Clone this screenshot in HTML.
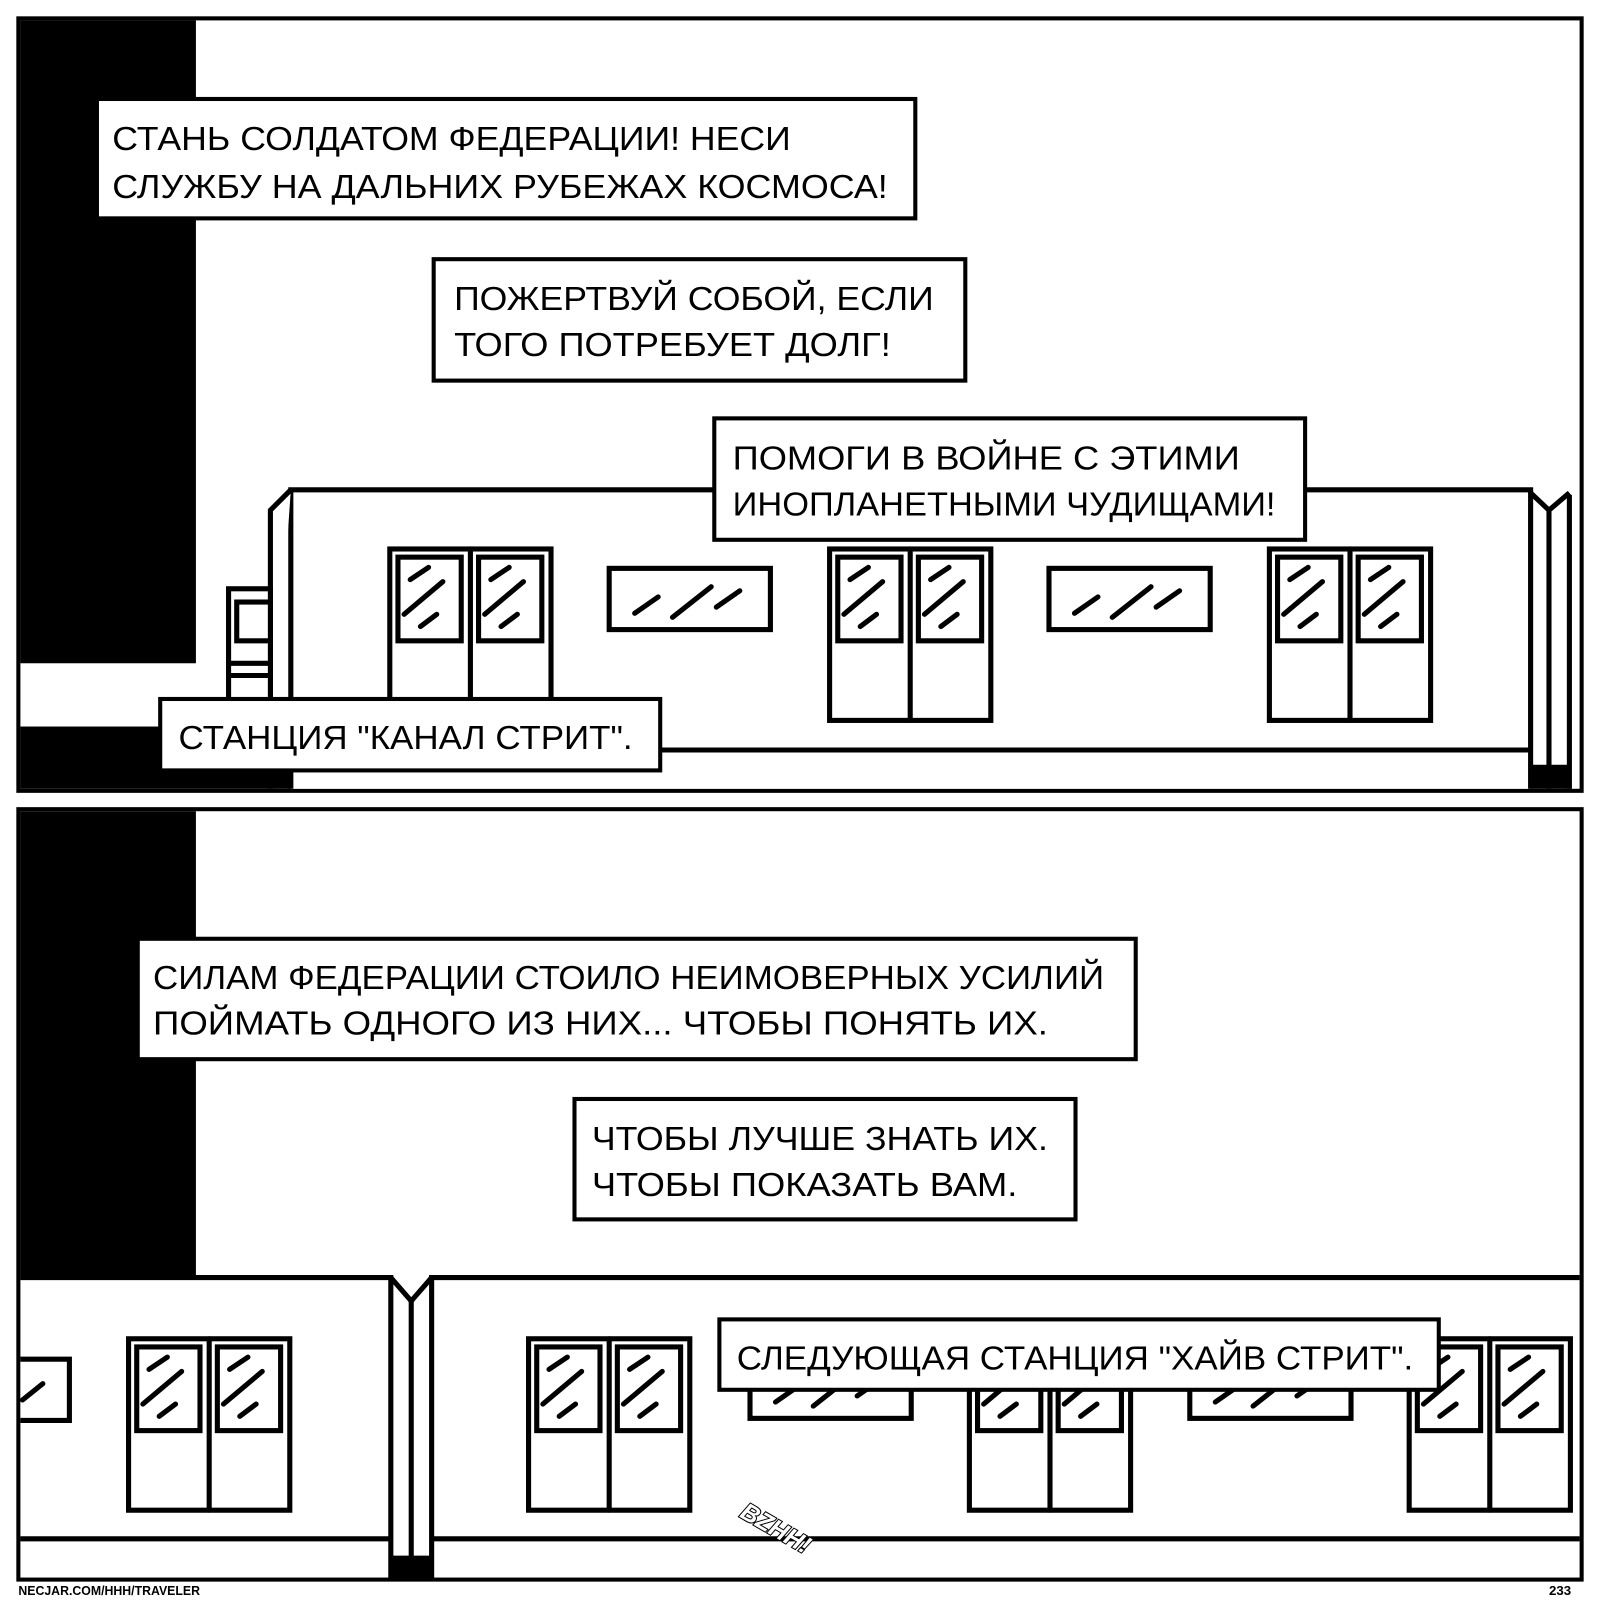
<!DOCTYPE html>
<html><head><meta charset="utf-8"><style>
html,body{margin:0;padding:0;background:#fff;}
svg{display:block}
text{font-family:"Liberation Sans","DejaVu Sans",sans-serif;font-size:33px;fill:#000;}
</style></head><body>
<svg width="1600" height="1600" viewBox="0 0 1568 1568" xmlns="http://www.w3.org/2000/svg">
<defs>
<g id="door" fill="none" stroke="#000" stroke-width="5" stroke-linecap="round">
  <rect x="0" y="0" width="158" height="168" fill="#fff"/>
  <line x1="79" y1="0" x2="79" y2="168"/>
  <rect x="8" y="8" width="62" height="82"/>
  <rect x="87" y="8" width="62" height="82"/>
  <line x1="20" y1="30" x2="38" y2="18"/><line x1="14" y1="64" x2="52" y2="32"/><line x1="30" y1="76" x2="46" y2="64"/>
  <line x1="99" y1="30" x2="117" y2="18"/><line x1="93" y1="64" x2="131" y2="32"/><line x1="109" y1="76" x2="125" y2="64"/>
</g>
<g id="hwin" fill="none" stroke="#000" stroke-width="5" stroke-linecap="round">
  <rect x="0" y="0" width="158" height="60" fill="#fff"/>
  <line x1="25" y1="44" x2="48" y2="28"/><line x1="62" y1="48" x2="100" y2="18"/><line x1="105" y1="38" x2="128" y2="22"/>
</g>
</defs>
<rect width="1568" height="1568" fill="#fff"/>

<!-- PANEL 1 -->
<g stroke="#000" stroke-width="4" fill="none">
  <rect x="18" y="18" width="1532" height="757" fill="#fff"/>
</g>
<rect x="20" y="20" width="172" height="630" fill="#000"/>
<rect x="20" y="712" width="265" height="61" fill="#000"/>
<g stroke="#000" stroke-width="5" fill="#fff">
  <path d="M285 773 V480 H1500 V773"/>
  <path d="M265 773 V500 L285 480"/>
  <rect x="224" y="577" width="41" height="135"/>
  <rect x="232" y="590" width="33" height="38"/>
  <line x1="224" y1="650" x2="265" y2="650"/>
  <line x1="224" y1="662" x2="265" y2="662"/>
  <line x1="285" y1="735" x2="1500" y2="735"/>
  <line x1="1518" y1="500" x2="1518" y2="773"/>
  <line x1="1538" y1="485" x2="1538" y2="773"/>
  <path d="M1500 483 L1518 500 L1538 483" fill="none"/>
  <line x1="1500" y1="752" x2="1540" y2="752"/>
</g>
<rect x="1500" y="752" width="40" height="21" fill="#000"/>
<use href="#door" x="382" y="538"/>
<use href="#door" x="813" y="538"/>
<use href="#door" x="1244" y="538"/>
<use href="#hwin" x="597" y="557"/>
<use href="#hwin" x="1028" y="557"/>

<g stroke="#000" stroke-width="4" fill="#fff">
  <rect x="95" y="97" width="802" height="117"/>
  <rect x="425" y="254" width="521" height="119"/>
  <rect x="700" y="410" width="579" height="119"/>
  <rect x="157" y="685" width="490" height="70"/>
</g>
<text x="110" y="147" textLength="665" lengthAdjust="spacingAndGlyphs">СТАНЬ СОЛДАТОМ ФЕДЕРАЦИИ! НЕСИ</text>
<text x="110" y="194" textLength="760" lengthAdjust="spacingAndGlyphs">СЛУЖБУ НА ДАЛЬНИХ РУБЕЖАХ КОСМОСА!</text>
<text x="445" y="304" textLength="470" lengthAdjust="spacingAndGlyphs">ПОЖЕРТВУЙ СОБОЙ, ЕСЛИ</text>
<text x="445" y="349" textLength="428" lengthAdjust="spacingAndGlyphs">ТОГО ПОТРЕБУЕТ ДОЛГ!</text>
<text x="718" y="460" textLength="497" lengthAdjust="spacingAndGlyphs">ПОМОГИ В ВОЙНЕ С ЭТИМИ</text>
<text x="718" y="505" textLength="532" lengthAdjust="spacingAndGlyphs">ИНОПЛАНЕТНЫМИ ЧУДИЩАМИ!</text>
<text x="175" y="734" textLength="445" lengthAdjust="spacingAndGlyphs">СТАНЦИЯ "КАНАЛ СТРИТ".</text>

<!-- PANEL 2 -->
<rect x="18" y="793" width="1532" height="755" fill="#fff" stroke="#000" stroke-width="4"/>
<rect x="20" y="795" width="172" height="457" fill="#000"/>
<g stroke="#000" stroke-width="5" fill="none">
  <path d="M20 1252 H383 V1548"/>
  <path d="M423 1548 V1252 H1548"/>
  <path d="M383 1252 L403 1275 L423 1252"/>
  <line x1="403" y1="1275" x2="403" y2="1548"/>
  <line x1="20" y1="1508" x2="383" y2="1508"/>
  <line x1="423" y1="1508" x2="1548" y2="1508"/>
  <line x1="383" y1="1527" x2="423" y2="1527"/>
  <path d="M20 1332 H68 V1392 H20" fill="#fff"/>
  <line x1="22" y1="1372" x2="42" y2="1356" stroke-linecap="round"/>
</g>
<rect x="383" y="1527" width="40" height="21" fill="#000"/>
<use href="#door" x="126" y="1312"/>
<use href="#door" x="518" y="1312"/>
<use href="#door" x="950" y="1312"/>
<use href="#door" x="1381" y="1312"/>
<use href="#hwin" x="735" y="1330"/>
<use href="#hwin" x="1166" y="1330"/>

<g stroke="#000" stroke-width="4" fill="#fff">
  <rect x="135" y="920" width="978" height="118"/>
  <rect x="563" y="1077" width="491" height="118"/>
  <rect x="705" y="1293" width="705" height="69"/>
</g>
<text x="150" y="969" textLength="932" lengthAdjust="spacingAndGlyphs">СИЛАМ ФЕДЕРАЦИИ СТОИЛО НЕИМОВЕРНЫХ УСИЛИЙ</text>
<text x="150" y="1014" textLength="877" lengthAdjust="spacingAndGlyphs">ПОЙМАТЬ ОДНОГО ИЗ НИХ... ЧТОБЫ ПОНЯТЬ ИХ.</text>
<text x="580" y="1127" textLength="447" lengthAdjust="spacingAndGlyphs">ЧТОБЫ ЛУЧШЕ ЗНАТЬ ИХ.</text>
<text x="580" y="1172" textLength="417" lengthAdjust="spacingAndGlyphs">ЧТОБЫ ПОКАЗАТЬ ВАМ.</text>
<text x="722" y="1342" textLength="663" lengthAdjust="spacingAndGlyphs">СЛЕДУЮЩАЯ СТАНЦИЯ "ХАЙВ СТРИТ".</text>

<text x="0" y="0" transform="translate(724,1486) rotate(30)" style="font-size:24px;font-weight:bold;font-style:italic;fill:#fff;stroke:#000;stroke-width:2px;paint-order:stroke">BZHH!</text>

<text x="18" y="1563" textLength="178" lengthAdjust="spacingAndGlyphs" style="font-size:13px;font-weight:bold">NECJAR.COM/HHH/TRAVELER</text>
<text x="1518" y="1563" style="font-size:13px;font-weight:bold">233</text>
</svg>
</body></html>
